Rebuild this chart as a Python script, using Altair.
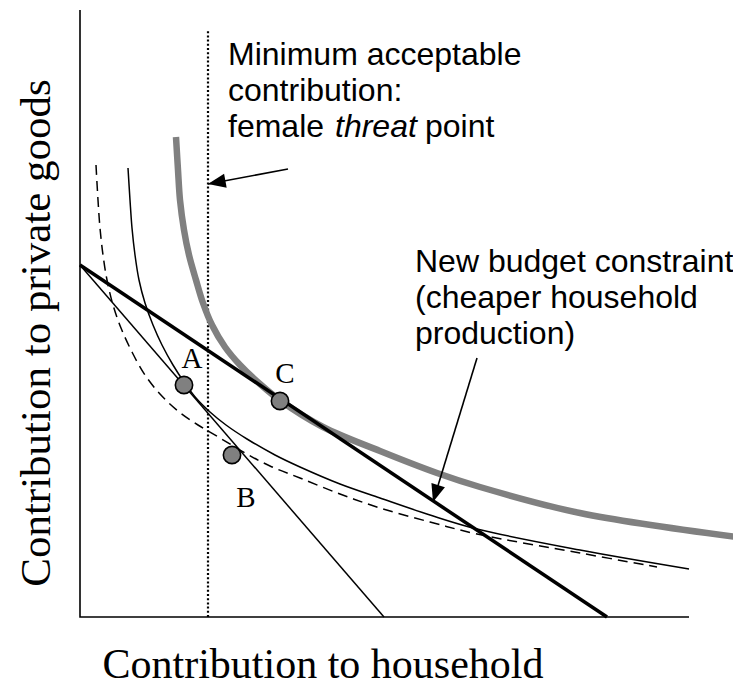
import altair as alt
import pandas as pd

# ---- diagram values (x = distance right of y-axis, y = height above x-axis) ----
gray_x = [96, 98, 100, 104, 109, 116, 123, 132, 145, 160, 180, 201, 243, 300, 357, 400, 500, 657]
gray_y = [480, 447, 417, 387, 362, 337, 314, 292, 270, 252, 233, 216, 190, 166, 144, 130, 104, 80]

thin_x = [48, 50, 52, 55, 59, 65, 73, 82, 93, 104, 116, 130, 146, 167, 195, 220, 260, 300, 350, 397, 500, 609]
thin_y = [449, 417, 389, 362, 337, 314, 292, 272, 252, 235, 219, 205, 192, 178, 162, 150, 133, 119, 102, 88, 67, 48]

dash_x = [16, 18, 20, 23, 27, 33, 41, 52, 65, 80, 98, 118, 140, 165, 190, 220, 260, 300, 350, 397, 500, 577]
dash_y = [452, 417, 389, 362, 337, 312, 289, 265, 242, 223, 206, 192, 179, 164, 151, 139, 123, 109, 95, 83, 64, 50]

old_budget_x = [0, 304]
old_budget_y = [352, 0]
new_budget_x = [0, 527]
new_budget_y = [352, 0]

axis_x = [0, 0, 609]
axis_y = [607, 0, 0]

threat_x = 128
threat_y = [0, 588]

pt_names = ["A", "B", "C"]
pt_x = [104, 152, 200]
pt_y = [232, 162, 216]
lbl_x = [112, 166, 205]
lbl_y = [249, 110, 234]

arrow_x = [208, 397]
arrow_y = [448, 259]
arrow_x2 = [128, 353]
arrow_y2 = [433, 115]
arrow_ang = [259.4, 197]

note1 = ["Minimum acceptable", "contribution:", "female"]
note1_y = [552, 516, 480]
note2 = ["New budget constraint", "(cheaper household", "production)"]
note2_y = [345, 309, 273]

xs = alt.Scale(domain=[0, 609], nice=False, zero=False)
ys = alt.Scale(domain=[0, 607], nice=False, zero=False)


def X(f):
    return alt.X(f, type="quantitative", scale=xs, axis=None)


def Y(f):
    return alt.Y(f, type="quantitative", scale=ys, axis=None)


def curve(xv, yv, interp="catmull-rom", **kw):
    df = pd.DataFrame({"x": xv, "y": yv, "i": range(len(xv))})
    return alt.Chart(df).mark_line(interpolate=interp, clip=False, **kw).encode(
        x=X("x"), y=Y("y"), order="i:Q",
    )


axes_layer = curve(axis_x, axis_y, interp="linear", color="black", strokeWidth=1.6)

gray = curve(gray_x, gray_y, color="#808080", strokeWidth=6.5)
thin = curve(thin_x, thin_y, color="black", strokeWidth=1.5)
dashed = curve(dash_x, dash_y, color="black", strokeWidth=1.5, strokeDash=[10, 6])
old_b = curve(old_budget_x, old_budget_y, interp="linear", color="black", strokeWidth=1.5)
new_b = curve(new_budget_x, new_budget_y, interp="linear", color="black", strokeWidth=3.5)

threat = alt.Chart(pd.DataFrame({"x": [threat_x], "y": [threat_y[0]], "y2": [threat_y[1]]})).mark_rule(
    color="black", strokeWidth=2.2, strokeDash=[2, 2.2]
).encode(x=X("x"), y=Y("y"), y2="y2:Q")

adf = pd.DataFrame({"x": arrow_x, "y": arrow_y, "x2": arrow_x2, "y2": arrow_y2, "a": arrow_ang})
arrows = alt.Chart(adf).mark_rule(color="black", strokeWidth=1.6).encode(
    x=X("x"), y=Y("y"), x2="x2:Q", y2="y2:Q",
)
heads = alt.Chart(adf).mark_point(
    shape="M0,0L-0.5,1.25L0.5,1.25Z", size=800, filled=True, color="black", opacity=1, clip=False
).encode(
    x=X("x2"), y=Y("y2"), angle=alt.Angle("a:Q", scale=None),
)

pdf = pd.DataFrame({"n": pt_names, "x": pt_x, "y": pt_y, "lx": lbl_x, "ly": lbl_y})
points = alt.Chart(pdf).mark_point(
    shape="circle", size=300, filled=True, fill="#808080", stroke="black", strokeWidth=1.6, opacity=1
).encode(x=X("x"), y=Y("y"))
plabels = alt.Chart(pdf).mark_text(
    font="Liberation Serif", fontSize=29, align="center", baseline="alphabetic", color="black"
).encode(x=X("lx"), y=Y("ly"), text="n:N")


def label(texts, xv, yv, **kw):
    df = pd.DataFrame({"t": texts, "x": xv, "y": yv})
    return alt.Chart(df).mark_text(baseline="alphabetic", color="black", **kw).encode(
        x=X("x"), y=Y("y"), text="t:N"
    )


n1 = label(note1, [148] * 3, note1_y, font="Liberation Sans", fontSize=32, align="left")
n1b = label(["threat"], [255], [480], font="Liberation Sans", fontSize=32, fontStyle="italic", align="left")
n1c = label(["point"], [345], [480], font="Liberation Sans", fontSize=32, align="left")
n2 = label(note2, [335] * 3, note2_y, font="Liberation Sans", fontSize=32, align="left")

xt = label(["Contribution to household"], [243], [-61], font="Liberation Serif", fontSize=42, align="center")
yt = label(["Contribution to private goods"], [-30], [284], font="Liberation Serif", fontSize=43,
           align="center", angle=270)

chart = alt.layer(
    axes_layer, threat, dashed, thin, old_b, gray, new_b, arrows, heads, points, plabels,
    n1, n1b, n1c, n2, xt, yt
).properties(
    width=609, height=607,
    padding={"left": 72, "top": 2, "right": 44, "bottom": 70},
    autosize=alt.AutoSizeParams(type="none"),
).configure_view(stroke=None)

chart.save("out.html", embed_options={"renderer": "svg", "actions": False})
